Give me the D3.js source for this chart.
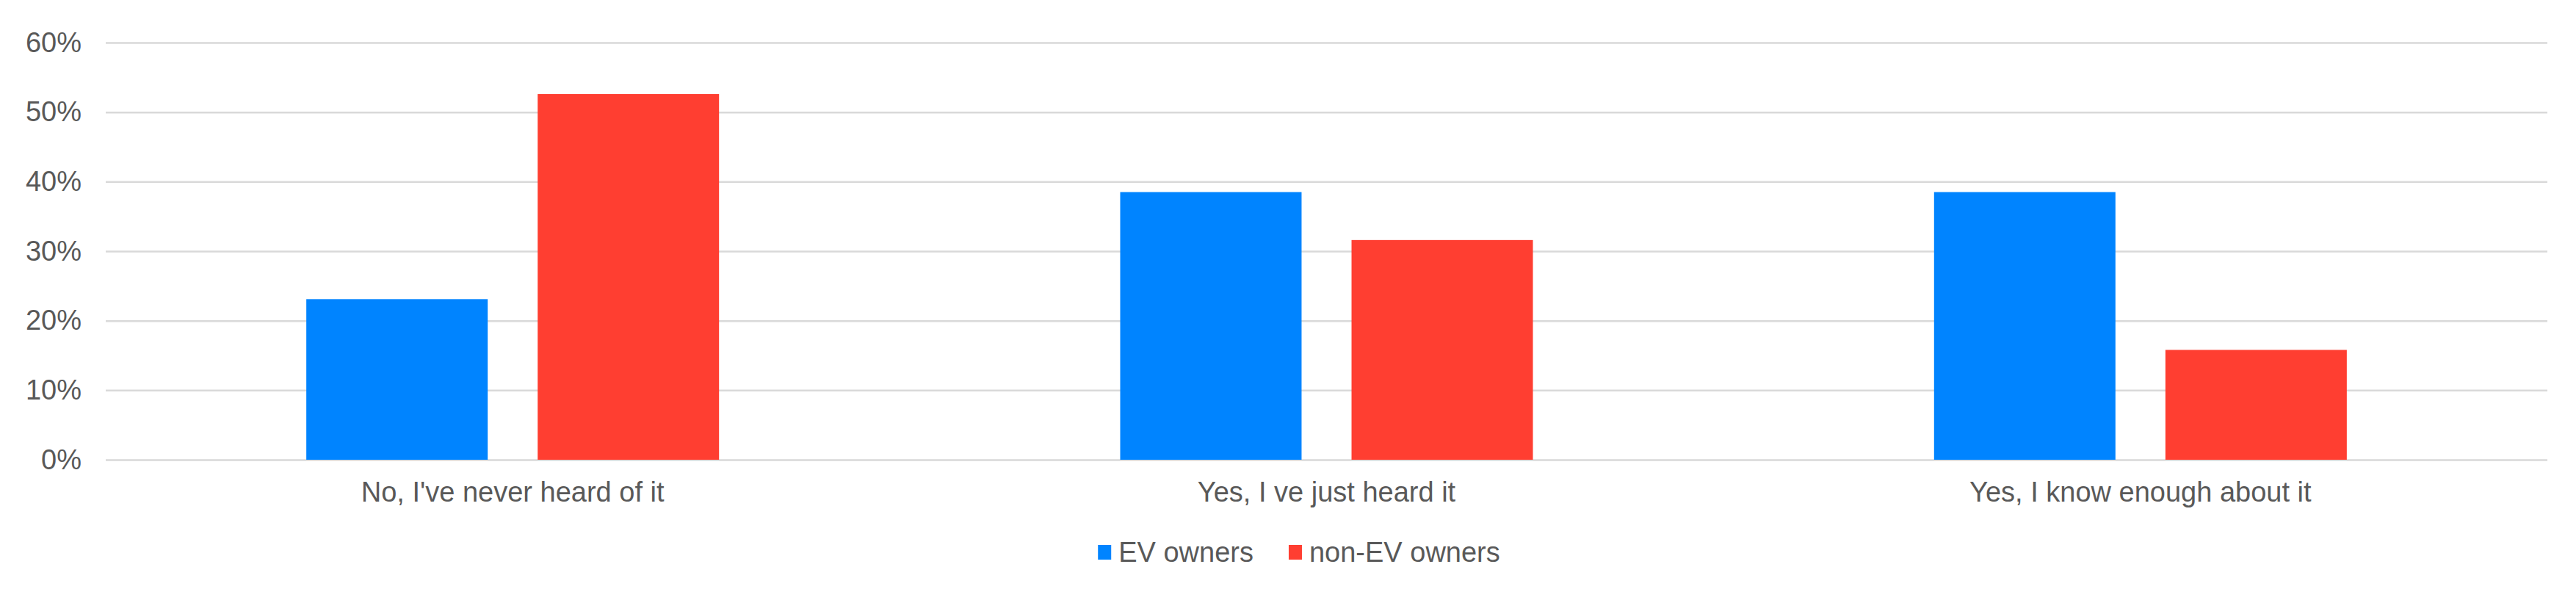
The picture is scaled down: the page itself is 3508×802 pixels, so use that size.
<!DOCTYPE html>
<html>
<head>
<meta charset="utf-8">
<script src="https://cdn.jsdelivr.net/npm/d3@7"></script>
<style>
  html, body { margin: 0; padding: 0; background: #ffffff; }
  svg { display: block; }
  text { font-family: "Liberation Sans", Arial, sans-serif; fill: #595959; }
</style>
</head>
<body>
<svg id="chart" width="3508" height="802"></svg>
<script>
const categories = ["No, I've never heard of it", "Yes, I ve just heard it", "Yes, I know enough about it"];
const seriesNames = ["EV owners", "non-EV owners"];
const evOwners = [0.231, 0.385, 0.385];
const nonEvOwners = [0.526, 0.316, 0.158];
const yTicks = [0, 0.1, 0.2, 0.3, 0.4, 0.5, 0.6];
const colors = ["#0084FF", "#FF3E31"];

const seriesValues = [evOwners, nonEvOwners];
const W = 3508, H = 802;
const margin = { left: 144, right: 3508 - 3469, top: 58, bottom: 802 - 626 };
const innerW = W - margin.left - margin.right;
const innerH = H - margin.top - margin.bottom;
const FONT = 38;

const svg = d3.select("#chart");
const g = svg.append("g").attr("transform", `translate(${margin.left},${margin.top})`);

const x0 = d3.scaleBand().domain(categories).range([0, innerW]).paddingInner(0).paddingOuter(0);
const x1 = d3.scaleBand().domain(seriesNames).range([0, x0.bandwidth()]).paddingInner(0.216).paddingOuter(0.867);
const y = d3.scaleLinear().domain([0, 0.6]).range([innerH, 0]);

// gridlines + y labels
const yAxis = d3.axisLeft(y).tickValues(yTicks).tickSize(-innerW).tickPadding(33)
  .tickFormat(d3.format(".0%"));
const ya = g.append("g").call(yAxis);
ya.select(".domain").remove();
ya.selectAll(".tick line").attr("stroke", "#d9d9d9").attr("stroke-width", 2.5);
ya.selectAll(".tick text").attr("font-size", FONT).attr("fill", "#595959")
  .style("font-family", '"Liberation Sans", Arial, sans-serif');

// bars
const rows = categories.map((c, i) => ({ cat: c, vals: seriesNames.map((s, j) => ({ s, j, v: seriesValues[j][i] })) }));
const grp = g.append("g").selectAll("g").data(rows).join("g")
  .attr("transform", d => `translate(${x0(d.cat)},0)`);
grp.selectAll("rect").data(d => d.vals).join("rect")
  .attr("x", d => x1(d.s))
  .attr("width", x1.bandwidth())
  .attr("y", d => y(d.v))
  .attr("height", d => y(0) - y(d.v))
  .attr("fill", d => colors[d.j]);

// x axis labels
const xAxis = d3.axisBottom(x0).tickSize(0).tickPadding(30);
const xa = g.append("g").attr("transform", `translate(0,${innerH})`).call(xAxis);
xa.select(".domain").remove();
xa.selectAll(".tick text").attr("font-size", FONT).attr("fill", "#595959")
  .style("font-family", '"Liberation Sans", Arial, sans-serif');

// legend
const legendY = 752;
const leg = svg.append("g");
const items = leg.selectAll("g").data(seriesNames).join("g");
items.append("rect").attr("width", 18).attr("height", 20).attr("y", legendY - 10)
  .attr("fill", (d, i) => colors[i]);
items.append("text").attr("x", 28).attr("y", legendY).attr("dominant-baseline", "central")
  .attr("font-size", FONT).text(d => d);
const widths = [];
items.each(function () { widths.push(this.getBBox().width); });
const gap = 48;
const total = d3.sum(widths) + gap * (widths.length - 1);
const start = W / 2 - total / 2 + 15;
items.attr("transform", (d, i) => {
  const tx = start + d3.sum(widths.slice(0, i)) + gap * i;
  return `translate(${tx},0)`;
});
</script>
</body>
</html>
